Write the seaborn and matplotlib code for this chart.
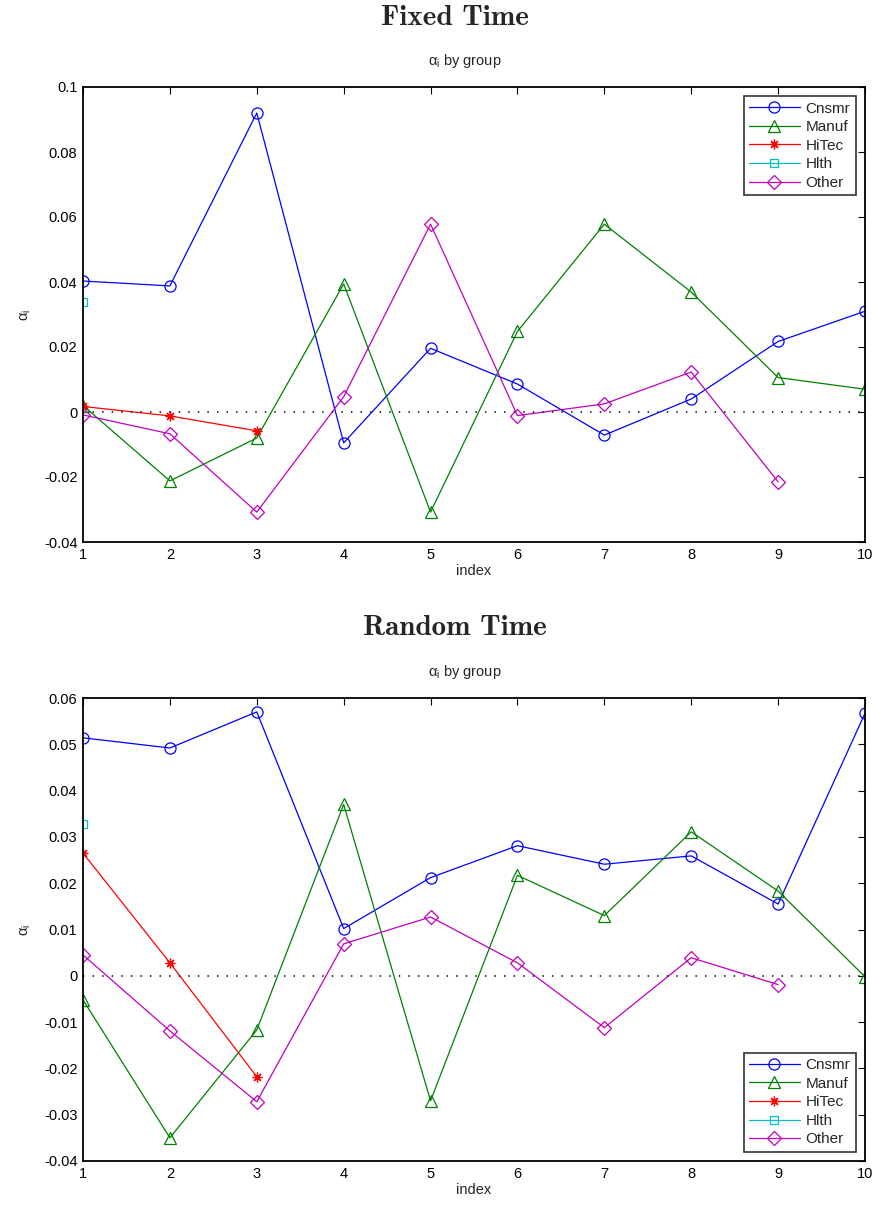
import numpy as np
import pandas as pd
import matplotlib
matplotlib.use("Agg")
import matplotlib.pyplot as plt
import seaborn as sns

# ---- data -------------------------------------------------------------
index = list(range(1, 11))
groups = ["Cnsmr", "Manuf", "HiTec", "Hlth", "Other"]

fixed_cnsmr = [0.0403, 0.0388, 0.0920, -0.0095, 0.0196, 0.0086, -0.0071, 0.0040, 0.0217, 0.0310]
fixed_manuf = [0.0020, -0.0212, -0.0080, 0.0394, -0.0308, 0.0248, 0.0578, 0.0369, 0.0106, 0.0070]
fixed_hitec = [0.0017, -0.0012, -0.0058]
fixed_hlth = [0.0338]
fixed_other = [-0.0009, -0.0067, -0.0308, 0.0047, 0.0578, -0.0011, 0.0025, 0.0123, -0.0215]

random_cnsmr = [0.0514, 0.0492, 0.0570, 0.0102, 0.0212, 0.0281, 0.0241, 0.0259, 0.0155, 0.0567]
random_manuf = [-0.0052, -0.0350, -0.0117, 0.0370, -0.0270, 0.0217, 0.0130, 0.0311, 0.0183, -0.0002]
random_hitec = [0.0265, 0.0028, -0.0218]
random_hlth = [0.0328]
random_other = [0.0045, -0.0119, -0.0272, 0.0069, 0.0127, 0.0028, -0.0112, 0.0039, -0.0019]

fixed_yticks = [-0.04, -0.02, 0, 0.02, 0.04, 0.06, 0.08, 0.1]
random_yticks = [-0.04, -0.03, -0.02, -0.01, 0, 0.01, 0.02, 0.03, 0.04, 0.05, 0.06]

panel_titles = ["Fixed Time", "Random Time"]

# ---- styling ----------------------------------------------------------
sns.set_theme(style="white")
plt.rcParams["font.family"] = ["Liberation Sans", "DejaVu Sans"]
plt.rcParams["mathtext.default"] = "regular"
plt.rcParams["axes.unicode_minus"] = False

colors = {"Cnsmr": (0, 0, 1), "Manuf": (0, 0.5, 0), "HiTec": (1, 0, 0),
          "Hlth": (0, 0.75, 0.75), "Other": (0.75, 0, 0.75)}
markers = {"Cnsmr": "o", "Manuf": "^", "HiTec": (8, 2, 0), "Hlth": "s", "Other": "D"}
msizes = {"Cnsmr": 8, "Manuf": 9, "HiTec": 7, "Hlth": 6, "Other": 7}


def draw_panel(ax, series, yticks, legend_loc):
    for name, vals in zip(groups, series):
        df = pd.DataFrame({"index": index[:len(vals)], "alpha": vals})
        c = colors[name]
        sns.lineplot(data=df, x="index", y="alpha", ax=ax, color=c, lw=0.9,
                     marker=markers[name], markersize=msizes[name],
                     markerfacecolor="none", markeredgecolor=c,
                     markeredgewidth=0.9, label=name, legend=False)
    ax.plot([index[0], index[-1]], [0, 0], color="0.15", lw=1.3,
            dashes=(0.8, 4.5))
    ax.set_xlim(index[0], index[-1])
    ax.set_ylim(yticks[0], yticks[-1])
    ax.set_xticks(index)
    ax.set_yticks(yticks)
    ax.set_yticklabels(["%g" % t for t in yticks])
    ax.tick_params(direction="in", length=5, width=0.8, top=True, right=True,
                   labelsize=10.5, colors="black", pad=4)
    for s in ax.spines.values():
        s.set_visible(True)
        s.set_color("black")
        s.set_linewidth(1.3)
    ax.set_xlabel("index", fontsize=10.5, labelpad=2)
    ax.set_ylabel(r"$\alpha_i$", fontsize=10.5, labelpad=8)
    ax.set_title(r"$\alpha_i$ by group", fontsize=10.5, pad=16, x=0.488)
    leg = ax.legend(loc=legend_loc, fontsize=11, frameon=True, fancybox=False,
                    handlelength=3.3, handletextpad=0.4, labelspacing=0.3,
                    borderpad=0.35, borderaxespad=0.6)
    leg.get_frame().set_edgecolor("black")
    leg.get_frame().set_linewidth(1.2)


fig = plt.figure(figsize=(8.75, 12.05), dpi=100)
ax1 = fig.add_axes([83 / 875, 1 - 542 / 1205, 782 / 875, 455 / 1205])
ax2 = fig.add_axes([83 / 875, 1 - 1161 / 1205, 782 / 875, 463 / 1205])

draw_panel(ax1, [fixed_cnsmr, fixed_manuf, fixed_hitec, fixed_hlth, fixed_other],
           fixed_yticks, "upper right")
draw_panel(ax2, [random_cnsmr, random_manuf, random_hitec, random_hlth, random_other],
           random_yticks, "lower right")

fig.text(455 / 875, 1 - 18 / 1205, panel_titles[0], ha="center", va="center",
         fontsize=21, family=["cmb10", "DejaVu Serif"], fontweight="bold")
fig.text(455 / 875, 1 - 628 / 1205, panel_titles[1], ha="center", va="center",
         fontsize=21, family=["cmb10", "DejaVu Serif"], fontweight="bold")

fig.savefig("out.png", dpi=100)
